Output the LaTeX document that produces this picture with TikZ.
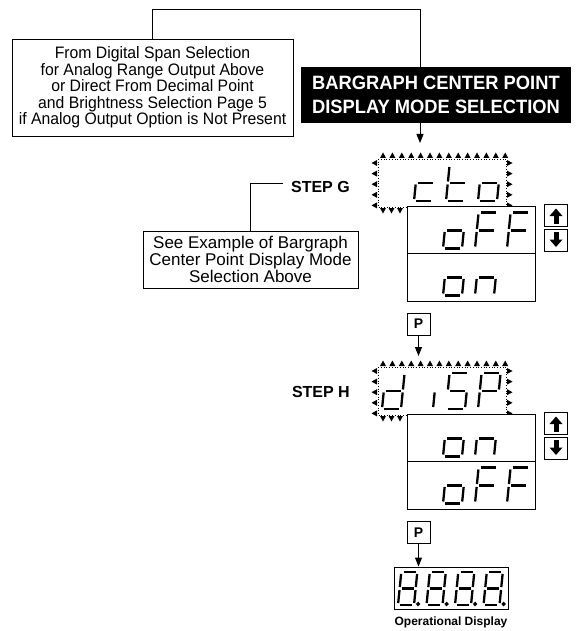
\documentclass[tikz,border=0pt]{standalone}
\usepackage{fontspec}
\setmainfont{Liberation Sans}
\newfontfamily\narrowfont[FakeStretch=0.95]{Liberation Sans}
\usetikzlibrary{arrows.meta}
\def\dw{19}\def\dh{36}
\tikzset{
  sga/.style={insert path={(2.5,-\dh) -- (\dw-1.5,-\dh)}},
  sgb/.style={insert path={(\dw,-\dh+2) -- (\dw,-\dh/2-1.5)}},
  sgc/.style={insert path={(\dw,-\dh/2+1.5) -- (\dw,-2)}},
  sgd/.style={insert path={(1.5,0) -- (\dw-2.5,0)}},
  sge/.style={insert path={(0,-\dh/2+1.5) -- (0,-2)}},
  sgf/.style={insert path={(0,-\dh+2) -- (0,-\dh/2-1.5)}},
  sgg/.style={insert path={(2,-\dh/2) -- (\dw-2,-\dh/2)}},
  sgp/.style={insert path={(\dw+4,-1) circle[radius=0.7]}},
}
\newcommand{\sdigit}[3]{%
  \begin{scope}[shift={(#1,#2)},xslant=0.1]
    \foreach \s in {#3}{\draw[seg,sg\s];}
  \end{scope}}
\newcommand{\flashbox}[4]{%
  \draw[dotted, line width=0.7pt] (#1,#2) rectangle (#3,#4);
  \foreach \i in {0,...,13} \fill ({#1+2+\i*9.4},#2-1) -- ++(6,0) -- ++(-3,-5.5) -- cycle;
  \foreach \i in {0,...,4} \fill (#1-1,{#2+1+\i*10.6}) -- ++(0,6) -- ++(-5.5,-3) -- cycle;
  \foreach \i in {0,...,4} \fill (#3+1,{#2+1+\i*10.6}) -- ++(0,6) -- ++(5.5,-3) -- cycle;
  \foreach \i in {0,1,2} \fill ({#1+2+\i*8.5},#4+1) -- ++(6,0) -- ++(-3,5.5) -- cycle;
}
\newcommand{\btnup}[1]{%
  \fill ([shift={(-6.5,0.5)}]#1.center) -- ++(13,0) -- ++(-6.5,-7.5) -- cycle;
  \fill ([shift={(-2.5,0)}]#1.center) rectangle ++(5,8);}
\newcommand{\btndown}[1]{%
  \fill ([shift={(-6.5,-0.5)}]#1.center) -- ++(13,0) -- ++(-6.5,7.5) -- cycle;
  \fill ([shift={(-2.5,0)}]#1.center) rectangle ++(5,-8);}
\begin{document}
\begin{tikzpicture}[x=1pt,y=-1pt,
  box/.style={draw, line width=0.9pt, inner sep=0pt, align=center},
  conn/.style={line width=0.9pt},
  arr/.style={line width=0.9pt, -{Triangle[width=7pt,length=9pt]}},
  seg/.style={line width=2.3pt},
  btn/.style={draw, line width=0.9pt, minimum width=23pt, minimum height=22pt, inner sep=0pt},
  pbox/.style={draw, line width=0.9pt, minimum width=23pt, minimum height=22pt, inner sep=0pt, font=\bfseries\fontsize{14}{14}\selectfont},
  steplabel/.style={anchor=east, font=\bfseries\fontsize{16}{16}\selectfont, inner sep=0pt}]
\useasboundingbox (0,0) rectangle (588,631);

% top boxes
\node[box, minimum width=281pt, minimum height=97pt, font=\narrowfont\fontsize{16.6}{16.5}\selectfont]
  (leftbox) at (152.5,87.5) {From Digital Span Selection\\for Analog Range Output Above\\or Direct From Decimal Point\\and Brightness Selection Page 5\\if Analog Output Option is Not Present};
\coordinate (gin) at (420,143);
\draw[arr] (leftbox.north) -- ++(0,-29) -| (gin);
\node[fill=black, text=white, inner sep=0pt, align=center, minimum width=270pt, minimum height=56pt,
  font=\narrowfont\bfseries\fontsize{19.3}{24}\selectfont] (title) at (436,95) {BARGRAPH CENTER POINT\\DISPLAY MODE SELECTION};

% STEP G
\node[steplabel] (stepg) at (350,187) {STEP G};
\node[box, minimum width=215pt, minimum height=57pt, font=\fontsize{17}{17}\selectfont]
  (example) at (250.5,259.5) {See Example of Bargraph\\Center Point Display Mode\\Selection Above};
\coordinate (gbr) at (283,183);
\draw[conn] (example.north) |- (gbr);

\flashbox{378}{159}{506}{207}
\sdigit{414}{201}{g,e,d}
\sdigit{446}{201}{f,e,g,d}
\sdigit{478}{201}{g,c,d,e}
\node[box, minimum width=128pt, minimum height=95pt, fill=white] (glow) at (471,253.5) {};
\draw[conn] (glow.west) -- (glow.east);
\sdigit{443}{248.5}{g,c,d,e}
\sdigit{475}{248.5}{a,f,e,g}
\sdigit{507}{248.5}{a,f,e,g}
\sdigit{443}{295.5}{g,c,d,e}
\sdigit{475}{295.5}{g,e,c}
\node[btn] (gup) at (556,215.5) {};
\btnup{gup}
\node[btn] (gdn) at (556,240) {};
\btndown{gdn}

% P and STEP H
\node[pbox] (p1) at (418.5,324) {P};
\coordinate (hin) at (418.5,356);
\draw[arr] (p1) -- (hin);
\node[steplabel] (steph) at (350,392) {STEP H};
\flashbox{378}{367}{506}{415}
\sdigit{382}{409}{b,c,d,e,g}
\sdigit{414}{409}{c}
\sdigit{446}{409}{a,f,g,c,d}
\sdigit{478}{409}{a,b,f,g,e}
\node[box, minimum width=128pt, minimum height=95pt, fill=white] (hlow) at (471,461.5) {};
\draw[conn] (hlow.west) -- (hlow.east);
\sdigit{443}{456.5}{g,c,d,e}
\sdigit{475}{456.5}{g,e,c}
\sdigit{443}{503.5}{g,c,d,e}
\sdigit{475}{503.5}{a,f,e,g}
\sdigit{507}{503.5}{a,f,e,g}
\node[btn] (hup) at (556,423.5) {};
\btnup{hup}
\node[btn] (hdn) at (556,448) {};
\btndown{hdn}

% operational display
\node[pbox] (p2) at (418.5,532.5) {P};
\node[box, minimum width=114pt, minimum height=42pt] (op) at (451,588) {};
\draw[arr] (p2) -- (p2 |- op.north);
\def\dw{16}\def\dh{33}
\sdigit{398}{605}{a,b,c,d,e,f,g,p}
\sdigit{426.5}{605}{a,b,c,d,e,f,g,p}
\sdigit{455}{605}{a,b,c,d,e,f,g,p}
\sdigit{483.5}{605}{a,b,c,d,e,f,g,p}
\node[font=\bfseries\fontsize{12}{12}\selectfont, inner sep=0pt] (oplabel) at (451,622) {Operational Display};
\end{tikzpicture}
\end{document}
